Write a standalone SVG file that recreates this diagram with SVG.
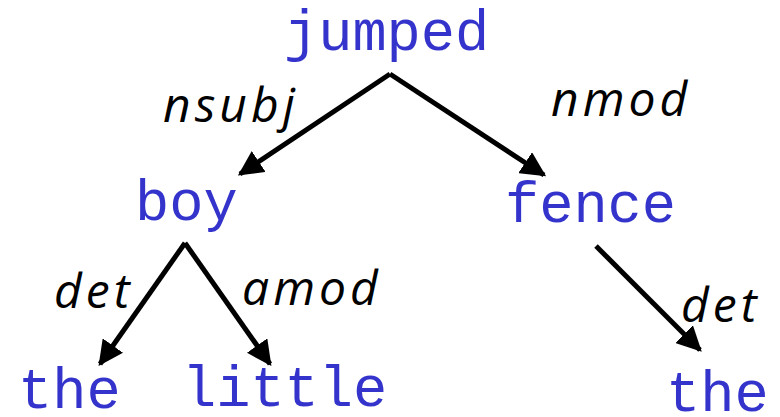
<svg xmlns="http://www.w3.org/2000/svg" width="780" height="417" viewBox="0 0 780 417">
  <style>
    .word { font-family: "Liberation Mono", "Courier New", monospace; font-size: 57px; fill: #3434cc; }
    .rel { font-family: "Open Sans", "DejaVu Sans", sans-serif; font-style: italic; font-size: 48px; fill: #000; letter-spacing: 4px; }
    .edge { fill: none; stroke: #000; stroke-width: 5; stroke-linejoin: miter; }
  </style>
  <defs>
    <marker id="arrow" viewBox="0 0 10 10" refX="9" refY="5" markerWidth="5" markerHeight="5" orient="auto" markerUnits="strokeWidth">
      <path d="M0,0 L10,5 L0,10 Z" fill="#000"/>
    </marker>
  </defs>
  <rect width="780" height="417" fill="#fff"/>

  <!-- dependency arcs -->
  <g id="connectors">
    <path class="edge" d="M390,74 L240,174" marker-end="url(#arrow)"/>
    <path class="edge" d="M390,74 L544,175" marker-end="url(#arrow)"/>
    <path class="edge" d="M185,243 L100,364" marker-end="url(#arrow)"/>
    <path class="edge" d="M185,243 L270,364" marker-end="url(#arrow)"/>
    <path class="edge" d="M596,246 L700,350" marker-end="url(#arrow)"/>
  </g>

  <!-- relation labels -->
  <g id="labels">
    <text class="rel" x="163" y="122">nsubj</text>
    <text class="rel" x="551" y="116">nmod</text>
    <text class="rel" x="54" y="308">det</text>
    <text class="rel" x="242" y="305">amod</text>
    <text class="rel" x="681" y="322">det</text>
  </g>

  <!-- words -->
  <g id="jumped"><text class="word" x="284" y="50">jumped</text></g>
  <g id="boy"><text class="word" x="135" y="220">boy</text></g>
  <g id="fence"><text class="word" x="505" y="222">fence</text></g>
  <g id="the1"><text class="word" x="18" y="408">the</text></g>
  <g id="little"><text class="word" x="182" y="406">little</text></g>
  <g id="the2"><text class="word" x="666" y="411">the</text></g>
</svg>
